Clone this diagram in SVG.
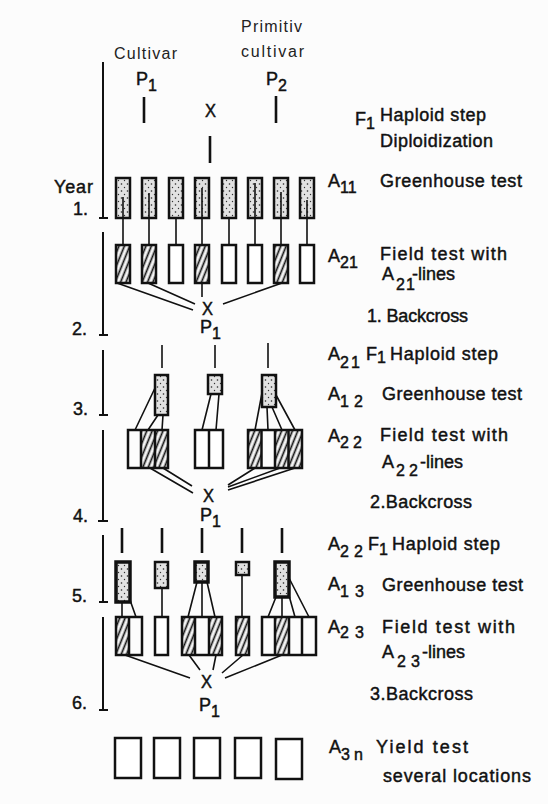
<svg xmlns="http://www.w3.org/2000/svg" width="548" height="804" viewBox="0 0 548 804">
<defs>
<pattern id="stip" width="6" height="7" patternUnits="userSpaceOnUse">
<rect width="6" height="7" fill="#e2e2e2"/>
<circle cx="1.5" cy="2" r="0.8" fill="#222"/>
<circle cx="4.5" cy="5.5" r="0.7" fill="#333"/>
</pattern>
<pattern id="hatch" width="5" height="10" patternUnits="userSpaceOnUse" patternTransform="rotate(22)">
<rect width="5" height="10" fill="#f4f4f4"/>
<line x1="2.5" y1="0" x2="2.5" y2="10" stroke="#111" stroke-width="1.7"/>
</pattern>
<style>
.t{font-family:"Liberation Sans",Arial,sans-serif;fill:#111;font-size:18px;stroke:#111;stroke-width:0.45}
.lt{font-family:"Liberation Sans",Arial,sans-serif;fill:#222;font-size:16px}
.s{font-size:16px}
.b{stroke:#111;stroke-width:2.5}
.bk{stroke:#111;stroke-width:3.5}
.st{fill:url(#stip)}
.ht{fill:url(#hatch)}
.wt{fill:#fff}
.ln{stroke:#111;stroke-width:1.6;fill:none}
.tk{stroke:#111;stroke-width:2.6;fill:none}
.yr{stroke:#111;stroke-width:2;fill:none}
</style>
</defs>
<rect width="548" height="804" fill="#fcfcfc"/>

<g id="header">
<text class="lt" x="241" y="32" textLength="61">Primitiv</text>
<text class="lt" x="241" y="57" textLength="63">cultivar</text>
<text class="lt" x="114" y="59" textLength="63">Cultivar</text>
<text class="t" x="136" y="85">P<tspan class="s" dy="6">1</tspan></text>
<text class="t" x="266" y="85">P<tspan class="s" dy="6">2</tspan></text>
<text class="t" x="205" y="117" textLength="11" lengthAdjust="spacingAndGlyphs" font-size="19">X</text>
</g>

<g id="years">
<text class="t" x="54" y="193" textLength="39">Year</text>
<text class="t" x="73" y="215">1.</text>
<text class="t" x="72" y="335">2.</text>
<text class="t" x="73" y="415">3.</text>
<text class="t" x="73" y="522">4.</text>
<text class="t" x="72" y="602">5.</text>
<text class="t" x="72" y="709">6.</text>
<path class="yr" d="M103,62V218M99,218H108M103,232V335M99,335H108M103,350V415M99,415H108M103,430V521M98,521H108M103,535V602M99,602H108M103,617V710M99,710H108"/>
</g>

<g id="connectors">
<path class="tk" d="M144,97V123M276,96V123M210,136V163"/>
<path class="ln" d="M123,245V218M149,245V218M176,245V218M202,245V218M229,245V218M255,245V218M281,245V218M307,245V218"/>
<path class="ln" d="M117,283L193,310M148,283L195,304M202,283V297M282,283L223,304"/>
<path class="ln" d="M162,345V368M215,345V368M268,343V368" stroke-width="2"/>
<path class="ln" d="M155,388L135,430M158,415L148,430M163,415L162,430M211,394L202,430M219,394L216,430M262,393L255,430M267,407L268,430M272,407L282,430M276,395L295,430"/>
<path class="ln" d="M150,468L193,493M163,468L192,486M255,468L228,485M280,468L228,487M295,468L228,490"/>
<path class="tk" d="M122,528V553M162,528V553M202,528V553M242,528V553M282,528V553" stroke-width="3"/>
<path class="ln" d="M122,602V617M130,600L136,617M162,588V617M197,582L188,617M202,582V617M207,582L215,617M242,575V617M276,597L268,617M282,597V617M288,592L295,617M289,578L309,617"/>
<path class="ln" d="M125,655L190,678M189,655L200,670M216,655L213,670M243,655L222,673M282,655L225,678"/>
</g>

<g id="A11-boxes">
<g id="a11-1"><rect class="b st" x="116" y="178" width="14" height="40"/><path class="ln" d="M123,218V197"/></g>
<g id="a11-2"><rect class="b st" x="142" y="178" width="14" height="40"/><path class="ln" d="M149,218V193"/></g>
<g id="a11-3"><rect class="b st" x="169" y="178" width="14" height="40"/></g>
<g id="a11-4"><rect class="b st" x="195" y="178" width="14" height="40"/><path class="ln" d="M202,218V188"/></g>
<g id="a11-5"><rect class="b st" x="222" y="178" width="14" height="40"/></g>
<g id="a11-6"><rect class="b st" x="248" y="178" width="14" height="40"/><path class="ln" d="M255,218V183"/></g>
<g id="a11-7"><rect class="b st" x="274" y="178" width="14" height="40"/><path class="ln" d="M281,218V192"/></g>
<g id="a11-8"><rect class="b st" x="300" y="178" width="14" height="40"/><path class="ln" d="M307,218V200"/></g>
</g>

<g id="A21-boxes">
<g id="a21-1"><rect class="b ht" x="116" y="245" width="14" height="38"/></g>
<g id="a21-2"><rect class="b ht" x="142" y="245" width="14" height="38"/></g>
<g id="a21-3"><rect class="b wt" x="169" y="245" width="14" height="38"/></g>
<g id="a21-4"><rect class="b ht" x="195" y="245" width="14" height="38"/></g>
<g id="a21-5"><rect class="b wt" x="222" y="245" width="14" height="38"/></g>
<g id="a21-6"><rect class="b wt" x="248" y="245" width="14" height="38"/></g>
<g id="a21-7"><rect class="b ht" x="274" y="245" width="14" height="38"/></g>
<g id="a21-8"><rect class="b wt" x="300" y="245" width="14" height="38"/></g>
</g>

<g id="cross1">
<text class="t" x="202" y="315" textLength="11" lengthAdjust="spacingAndGlyphs" font-size="19">X</text>
<text class="t" x="200" y="333">P<tspan class="s" dy="6">1</tspan></text>
</g>

<g id="A12-boxes">
<g id="a12-1"><rect class="b st" x="155" y="375" width="13" height="40"/></g>
<g id="a12-2"><rect class="b st" x="208" y="375" width="14" height="19"/></g>
<g id="a12-3"><rect class="b st" x="262" y="375" width="14" height="32"/></g>
</g>

<g id="A22-boxes">
<g id="a22-1">
<rect class="ht" x="141" y="430" width="27" height="38"/>
<rect class="b" fill="none" x="128" y="430" width="40" height="38"/>
<path class="b" d="M141,430V468M155,430V468" stroke-width="1.8"/>
</g>
<g id="a22-2">
<rect class="b wt" x="195" y="430" width="28" height="38"/>
<path class="b" d="M209,430V468" stroke-width="1.8"/>
</g>
<g id="a22-3">
<rect class="ht" x="248" y="430" width="13.5" height="38"/>
<rect class="ht" x="275" y="430" width="27" height="38"/>
<rect class="b" fill="none" x="248" y="430" width="54" height="38"/>
<path class="b" d="M261.5,430V468M275,430V468M288.5,430V468" stroke-width="1.8"/>
</g>
</g>

<g id="cross2">
<text class="t" x="203" y="502" textLength="11" lengthAdjust="spacingAndGlyphs" font-size="19">X</text>
<text class="t" x="200" y="521">P<tspan class="s" dy="6">1</tspan></text>
</g>

<g id="A13-boxes">
<g id="a13-1"><rect class="bk st" x="116" y="562" width="14" height="40"/></g>
<g id="a13-2"><rect class="b st" x="155" y="562" width="13" height="26"/></g>
<g id="a13-3"><rect class="bk st" x="195" y="562" width="13" height="20"/></g>
<g id="a13-4"><rect class="b st" x="236" y="562" width="13" height="13"/></g>
<g id="a13-5"><rect class="bk st" x="275" y="562" width="14" height="35"/></g>
</g>

<g id="A23-boxes">
<g id="a23-1">
<rect class="ht" x="116" y="617" width="13" height="38"/>
<rect class="b" fill="none" x="116" y="617" width="26" height="38"/>
<path class="b" d="M129,617V655" stroke-width="1.8"/>
</g>
<g id="a23-2"><rect class="b wt" x="155" y="617" width="13" height="38"/></g>
<g id="a23-3">
<rect class="ht" x="182" y="617" width="13" height="38"/>
<rect class="ht" x="209" y="617" width="13" height="38"/>
<rect class="b" fill="none" x="182" y="617" width="40" height="38"/>
<path class="b" d="M195,617V655M209,617V655" stroke-width="1.8"/>
</g>
<g id="a23-4"><rect class="b ht" x="236" y="617" width="13" height="38"/></g>
<g id="a23-5">
<rect class="ht" x="275" y="617" width="14" height="38"/>
<rect class="b" fill="none" x="262" y="617" width="54" height="38"/>
<path class="b" d="M275,617V655M289,617V655M302,617V655" stroke-width="1.8"/>
</g>
</g>

<g id="cross3">
<text class="t" x="201" y="688" textLength="11" lengthAdjust="spacingAndGlyphs" font-size="19">X</text>
<text class="t" x="199" y="711">P<tspan class="s" dy="6">1</tspan></text>
</g>

<g id="A3n-boxes">
<g id="a3n-1"><rect class="b wt" x="115" y="738" width="26" height="40" stroke-width="2"/></g>
<g id="a3n-2"><rect class="b wt" x="154" y="738" width="26" height="40" stroke-width="2"/></g>
<g id="a3n-3"><rect class="b wt" x="194" y="738" width="26" height="40" stroke-width="2"/></g>
<g id="a3n-4"><rect class="b wt" x="235" y="738" width="26" height="40" stroke-width="2"/></g>
<g id="a3n-5"><rect class="b wt" x="276" y="739" width="26" height="40" stroke-width="2"/></g>
</g>

<g id="labels">
<text class="t" x="355" y="125">F<tspan class="s" dy="4">1</tspan></text>
<text class="t" x="380" y="121" textLength="106">Haploid step</text>
<text class="t" x="380" y="147" textLength="113">Diploidization</text>

<text class="t" x="328" y="187">A<tspan class="s" dy="6">11</tspan></text>
<text class="t" x="380" y="187" textLength="142">Greenhouse test</text>

<text class="t" x="328" y="262">A<tspan class="s" dy="6">21</tspan></text>
<text class="t" x="380" y="260" textLength="127">Field test with</text>
<text class="t" x="382" y="280">A<tspan class="s" dy="10" x="396" letter-spacing="1">21</tspan><tspan dy="-10" x="412">-lines</tspan></text>
<text class="t" x="367" y="322" textLength="101">1. Backcross</text>

<text class="t" x="328" y="360">A<tspan class="s" dy="8" letter-spacing="2">21</tspan><tspan dy="-8" x="366">F</tspan><tspan class="s" dy="3" font-size="14">1</tspan><tspan dy="-3" x="390" textLength="108">Haploid step</tspan></text>

<text class="t" x="328" y="400">A<tspan class="s" dy="7" letter-spacing="5">12</tspan></text>
<text class="t" x="382" y="400" textLength="140">Greenhouse test</text>

<text class="t" x="328" y="442">A<tspan class="s" dy="6" letter-spacing="4">22</tspan></text>
<text class="t" x="380" y="441" textLength="128">Field test with</text>
<text class="t" x="382" y="468">A<tspan class="s" dy="8" x="396" letter-spacing="4">22</tspan><tspan dy="-8" x="420">-lines</tspan></text>
<text class="t" x="370" y="508" textLength="102">2.Backcross</text>

<text class="t" x="328" y="550">A<tspan class="s" dy="7" letter-spacing="5">22</tspan><tspan dy="-7" x="368">F</tspan><tspan class="s" dy="5" font-size="14">1</tspan><tspan dy="-5" x="392" textLength="108">Haploid step</tspan></text>

<text class="t" x="328" y="590">A<tspan class="s" dy="7" letter-spacing="6">13</tspan></text>
<text class="t" x="382" y="591" textLength="141">Greenhouse test</text>

<text class="t" x="328" y="633">A<tspan class="s" dy="5" letter-spacing="6">23</tspan></text>
<text class="t" x="382" y="633" textLength="133">Field test with</text>
<text class="t" x="382" y="658">A<tspan class="s" dy="9" x="397" letter-spacing="5">23</tspan><tspan dy="-9" x="422">-lines</tspan></text>
<text class="t" x="370" y="700" textLength="103">3.Backcross</text>

<text class="t" x="329" y="753">A<tspan class="s" dy="7" letter-spacing="4">3n</tspan></text>
<text class="t" x="376" y="753" textLength="92">Yield test</text>
<text class="t" x="383" y="782" textLength="148">several locations</text>
</g>
</svg>
